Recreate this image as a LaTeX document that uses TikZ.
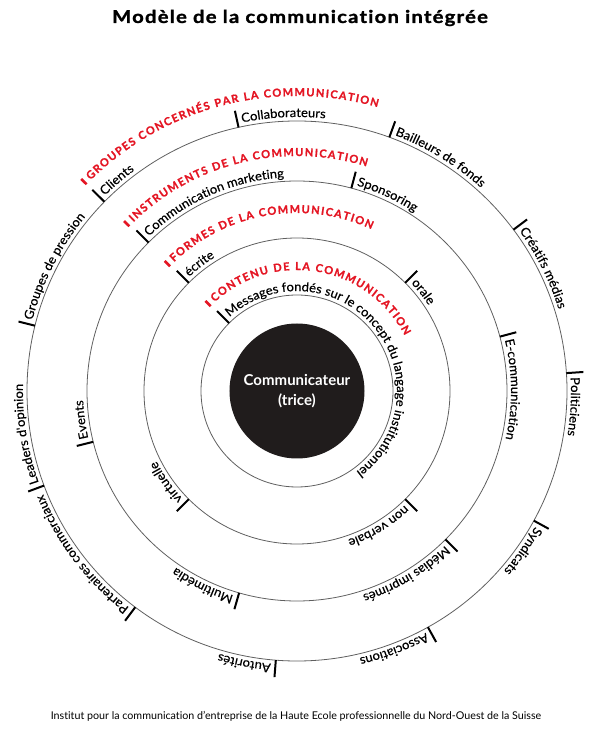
\documentclass[tikz,border=0pt]{standalone}
\usepackage{fontspec}
\setmainfont[Ligatures={TeX,NoCommon}]{Lato}
\newfontfamily\titlefam[UprightFont=* Bold,Ligatures=NoCommon,FakeBold=1.5,FakeStretch=1.15,LetterSpace=7]{Lato}
\newfontfamily\lblfam[FakeBold=0.4,FakeStretch=1.04]{Lato}
\newfontfamily\hdfam[UprightFont=* Bold,FakeBold=1]{Lato}
\usetikzlibrary{decorations.text}

\definecolor{redcom}{RGB}{228,22,36}
\definecolor{ringgray}{RGB}{95,95,95}
\definecolor{coredark}{RGB}{32,28,28}

\newcommand\lblfont{\lblfam\fontsize{12.5}{15}\selectfont}
\newcommand\hdfont{\hdfam\fontsize{11}{13}\selectfont}

\begin{document}
\begin{tikzpicture}[x=1pt,y=1pt,
    ring/.style={draw=ringgray,line width=0.8pt},
    labeltick/.style={line width=2pt},
    headbar/.style={draw=redcom,line width=2.6pt}]
  \useasboundingbox (-297,-339) rectangle (302,391);
  \pgfmathsetmacro\rCore{67.5}
  \pgfmathsetmacro\rA{96}
  \pgfmathsetmacro\rB{153}
  \pgfmathsetmacro\rC{210}
  \pgfmathsetmacro\rD{270}

% title and footer
  \node[font=\titlefam\fontsize{17.6}{21}\selectfont] (title) at (3,373) {Modèle de la communication intégrée};
  \node[font=\fontsize{10.7}{13}\selectfont] (footer) at (-1,-325)
    {Institut pour la communication d’entreprise de la Haute Ecole professionnelle du Nord-Ouest de la Suisse};

% rings and core
  \foreach \r in {\rA,\rB,\rC,\rD} \draw[ring] (0,0) circle (\r);
  \fill[coredark] (0,0) circle (\rCore);
  \node[text=white,font=\fontsize{15}{20}\selectfont\bfseries,align=center] (comm) at (0,0) {Communicateur\\(trice)};

% labels: tick on the ring, text outside, clockwise
  \foreach \r/\a/\txt in {\rD/135.5/Clients, \rD/102.5/Collaborateurs, \rD/70/Bailleurs de fonds,
      \rD/36.7/Créatifs médias, \rD/3.8/Politiciens, \rD/-28.7/Syndicats, \rD/-61/Associations,
      \rD/-94.5/Autorités, \rD/-126.8/Partenaires commerciaux, \rD/-159.5/Leaders d'opinion,
      \rD/166/Groupes de pression,
      \rC/135/Communication marketing, \rC/75/Sponsoring, \rC/15/E-communication,
      \rC/-45/Médias imprimés, \rC/-106/Multimédia, \rC/-166/Events,
      \rB/135/écrite, \rB/45/orale, \rB/-45/non verbale, \rB/-135/virtuelle,
      \rA/135/Messages fondés sur le concept du langage institutionnel}{
    \draw[labeltick] (\a:\r) -- (\a:{\r+17});
    \pgfmathsetmacro\s{\a-4.5/(\r+4)*180/pi}
    \lblfont
    \path[decorate,decoration={text along path,text/.expand once=\txt}]
      (\s:{\r+4}) arc[start angle=\s,delta angle=-230,radius=\r+4];
  }

% red headings
  \foreach \r/\txt in {\rA/CONTENU DE LA COMMUNICATION, \rB/FORMES DE LA COMMUNICATION,
      \rC/INSTRUMENTS DE LA COMMUNICATION, \rD/GROUPES CONCERNÉS PAR LA COMMUNICATION}{
    \pgfmathsetmacro\rh{\r+25}
    \draw[headbar] (135.5:\rh) -- (135.5:{\rh+7.5});
    \pgfmathsetmacro\s{135.5-5/\rh*180/pi}
    \hdfont
    \path[decorate,decoration={text effects along path,text/.expand once=\txt,
        text effects/.cd,text along path,characters={text=redcom},character widths={inner xsep=0.65pt}}]
      (\s:\rh) arc[start angle=\s,delta angle=-150,radius=\rh];
  }
\end{tikzpicture}
\end{document}
